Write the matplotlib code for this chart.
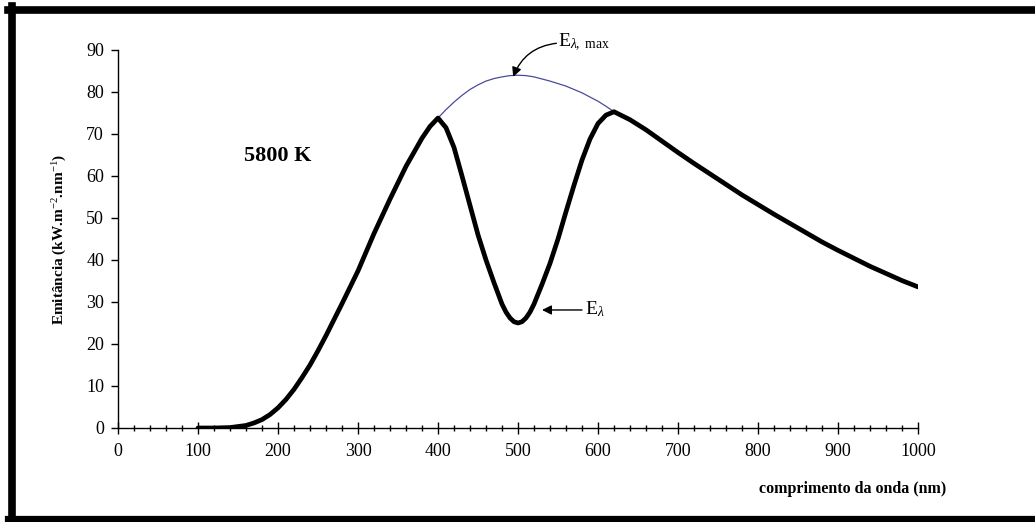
import numpy as np
import matplotlib
matplotlib.use("Agg")
import matplotlib.pyplot as plt
from matplotlib.lines import Line2D
from matplotlib.ticker import MultipleLocator

plt.rcParams['font.family'] = ['Liberation Serif', 'DejaVu Serif']
plt.rcParams['mathtext.fontset'] = 'custom'
plt.rcParams['mathtext.rm'] = 'Liberation Serif'
plt.rcParams['mathtext.it'] = 'Liberation Serif:italic'
plt.rcParams['mathtext.bf'] = 'Liberation Serif:bold'

# emitted spectrum with the absorption dip (black curve)
wl = [100, 120, 140, 160, 170, 180, 190, 200, 210, 220, 230, 240, 250, 260, 270, 280, 290, 300,
      320, 340, 360, 380, 390,
      400, 410, 420, 430, 440, 450, 460, 470, 480, 485, 490, 495, 500, 505, 510, 515, 520, 530, 540, 550,
      560, 570, 580, 590, 600, 610, 620, 640, 660, 680, 700, 720, 740, 760, 780, 800,
      820, 840, 860, 880, 900, 920, 940, 960, 980, 1000]
emit = [0.0, 0.0, 0.1, 0.6, 1.2, 2.0, 3.2, 4.8, 6.8, 9.2, 12.0, 15.0, 18.4, 22.0, 25.8, 29.6, 33.5, 37.4,
        46.3, 54.5, 62.3, 69.0, 71.8,
        73.8, 71.5, 66.8, 60.0, 53.0, 46.0, 40.0, 34.6, 29.5, 27.6, 26.2, 25.3, 25.0, 25.3, 26.2, 27.6, 29.5, 34.2, 39.2, 45.0,
        51.5, 57.8, 63.8, 68.8, 72.5, 74.5, 75.3, 73.4, 71.0, 68.3, 65.6, 63.0, 60.5, 58.0, 55.5, 53.2,
        50.9, 48.7, 46.5, 44.3, 42.3, 40.4, 38.5, 36.8, 35.1, 33.6]

# black body envelope over the dip (thin blue curve)
wl_max = [400, 410, 420, 430, 440, 450, 460, 470, 480, 490, 500, 510, 520, 530, 540, 550,
          560, 570, 580, 590, 600, 610, 620]
emit_max = [73.8, 75.8, 77.6, 79.2, 80.6, 81.7, 82.6, 83.2, 83.6, 83.9, 84.0, 83.9, 83.6, 83.1, 82.6, 82.0,
            81.4, 80.6, 79.8, 78.8, 77.8, 76.6, 75.3]

fig = plt.figure(figsize=(10.35, 5.22), dpi=100)
ax = fig.add_axes([118 / 1035, 94 / 522, 800 / 1035, 378 / 522])

ax.plot(wl_max, emit_max, color='#4a4a9a', lw=0.9, zorder=2)
ax.plot(wl, emit, color='black', lw=3.4, solid_capstyle='round', solid_joinstyle='round', zorder=3)

ax.set_xlim(0, 1000)
ax.set_ylim(0, 90)
ax.xaxis.set_major_locator(MultipleLocator(100))
ax.xaxis.set_minor_locator(MultipleLocator(20))
ax.yaxis.set_major_locator(MultipleLocator(10))
for s in ['top', 'right']:
    ax.spines[s].set_visible(False)
for s in ['left', 'bottom']:
    ax.spines[s].set_linewidth(1.0)
ax.tick_params(axis='x', which='major', direction='inout', length=9, width=1.0, labelsize=13, pad=6)
ax.tick_params(axis='x', which='minor', direction='inout', length=5, width=1.0)
ax.tick_params(axis='y', which='major', direction='out', length=5, width=1.0, labelsize=13, pad=5)

ax.set_ylabel('Emitância (kW.m$^{-2}$.nm$^{-1}$)', fontsize=11, fontweight='bold', labelpad=12)
ax.text(1035, -14.5, 'comprimento da onda (nm)', fontsize=11.5, fontweight='bold',
        ha='right', va='center', clip_on=False)

ax.text(157, 64.8, '5800 K', fontsize=16, fontweight='bold', ha='left', va='center')

ax.annotate('', xy=(494, 83.6), xytext=(548, 91.6),
            arrowprops=dict(arrowstyle='-|>', color='black', lw=1.0, mutation_scale=14,
                            connectionstyle='arc3,rad=0.3', shrinkA=0, shrinkB=0),
            annotation_clip=False)
ax.text(550, 91.8, r'E$_{\lambda,\ \mathrm{max}}$', fontsize=14, ha='left', va='center', clip_on=False)

ax.annotate('', xy=(530, 28.1), xytext=(580, 28.1),
            arrowprops=dict(arrowstyle='-|>', color='black', lw=1.0, mutation_scale=14,
                            shrinkA=0, shrinkB=0))
ax.text(584, 28.4, r'E$_{\lambda}$', fontsize=14, ha='left', va='center')

# thick frame around the picture
fig.add_artist(Line2D([8 / 1035, 1], [1 - 9.5 / 522, 1 - 9.5 / 522], color='black', lw=5.5,
                      transform=fig.transFigure))
fig.add_artist(Line2D([11.5 / 1035, 11.5 / 1035], [0, 1 - 6 / 522], color='black', lw=5.5,
                      transform=fig.transFigure))
fig.add_artist(Line2D([8 / 1035, 1], [3 / 522, 3 / 522], color='black', lw=4.5,
                      transform=fig.transFigure))

fig.savefig('out.png', dpi=100)
